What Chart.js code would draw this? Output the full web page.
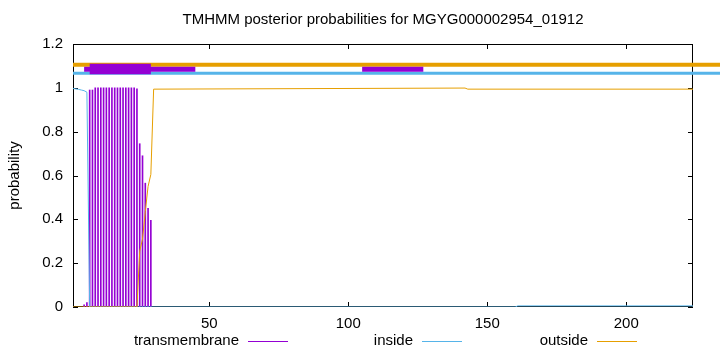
<!DOCTYPE html>
<html>
<head>
<meta charset="utf-8">
<script src="https://cdn.jsdelivr.net/npm/chart.js@4.4.1/dist/chart.umd.min.js"></script>
<style>
  html, body { margin: 0; padding: 0; background: #fff; }
</style>
</head>
<body>
<canvas id="myChart" width="720" height="352"></canvas>
<script>
// residue numbers and posterior probabilities
const tmResidues = [5, 6, 7, 8, 9, 10, 11, 12, 13, 14, 15, 16, 17, 18, 19, 20, 21, 22, 23, 24, 25, 26, 27, 28, 29]
const tmProb = [0.01, 0.02, 0.99, 0.99, 1, 1, 1, 1, 1, 1, 1, 1, 1, 1, 1, 1, 1, 1, 1, 0.995, 0.745, 0.69, 0.565, 0.45, 0.395]

const insideResidues = [1, 2, 3, 4, 5, 6, 7, 160, 161, 224]
const insideProb = [0.997, 0.995, 0.993, 0.99, 0.987, 0.98, 0, 0, 0.005, 0.005]

const outsideResidues = [1, 24, 25, 26, 27, 28, 29, 30, 142, 143, 224]
const outsideProb = [0, 0, 0.255, 0.31, 0.435, 0.55, 0.605, 0.994, 0.999, 0.994, 0.994]

// topology bars drawn above the curves: [start, end] residues
const outsideBar = [1, 234]
const insideBar = [1, 234]
const tmBoxes = [[5, 45], [105, 127]]
const tmSegments = [[7, 29]]
const barLevels = { outside: 1.105, inside: 1.066, tm: 1.085 }

const xTicks = [50, 100, 150, 200]
const seqLength = 224

const PURPLE = '#9400d3'
const BLUE = '#56b4e9'
const ORANGE = '#e69f00'
const FONT = '"Liberation Sans", Arial, sans-serif'

const pts = (xs, ys) => xs.map((x, i) => ({ x: x, y: ys[i] }))
const seg = (range, y) => [{ x: range[0], y: y }, { x: range[1], y: y }]

const lineStyle = (color, width, order) => ({
  type: 'line', borderColor: color, borderWidth: width, pointRadius: 0,
  borderCapStyle: 'butt', tension: 0, fill: false, order: order
})

const datasets = [
  Object.assign(lineStyle(ORANGE, 4, 6), { label: 'outsideBar', data: seg(outsideBar, barLevels.outside), clip: false }),
  Object.assign(lineStyle(BLUE, 3, 5), { label: 'insideBar', data: seg(insideBar, barLevels.inside), clip: false }),
  { type: 'bar', label: 'transmembrane', data: pts(tmResidues, tmProb), backgroundColor: PURPLE,
    barThickness: 1, order: 4 },
  Object.assign(lineStyle(BLUE, 1, 3), { label: 'inside', data: pts(insideResidues, insideProb) }),
  Object.assign(lineStyle(ORANGE, 1, 2), { label: 'outside', data: pts(outsideResidues, outsideProb) })
]
tmBoxes.forEach(b => datasets.push(Object.assign(lineStyle(PURPLE, 5, 1), { label: 'box', data: seg(b, barLevels.tm) })))
tmSegments.forEach(s => datasets.push(Object.assign(lineStyle(PURPLE, 10.5, 0), { label: 'seg', data: seg(s, barLevels.tm + 0.001) })))

const gnuplotFrame = {
  id: 'gnuplotFrame',
  beforeDatasetsDraw(chart) {
    const { ctx, chartArea: a, scales } = chart
    ctx.save()
    ctx.strokeStyle = '#000'
    ctx.lineWidth = 1
    ctx.beginPath()
    ctx.rect(a.left + 0.5, a.top + 0.5, a.right - a.left - 1, a.bottom - a.top - 1)
    xTicks.forEach(v => {
      const x = Math.round(scales.x.getPixelForValue(v)) + 0.5
      ctx.moveTo(x, a.bottom); ctx.lineTo(x, a.bottom - 5)
      ctx.moveTo(x, a.top); ctx.lineTo(x, a.top + 5)
    })
    scales.y.ticks.forEach(t => {
      const y = Math.round(scales.y.getPixelForValue(t.value)) + 0.5
      ctx.moveTo(a.left, y); ctx.lineTo(a.left + 5, y)
      ctx.moveTo(a.right, y); ctx.lineTo(a.right - 5, y)
    })
    ctx.stroke()
    ctx.restore()
  },
  afterDraw(chart) {
    const { ctx, chartArea: a } = chart
    ctx.save()
    ctx.fillStyle = '#000'
    ctx.font = '15px ' + FONT
    ctx.textAlign = 'center'
    ctx.textBaseline = 'middle'
    ctx.fillText('TMHMM posterior probabilities for MGYG000002954_01912', (a.left + a.right) / 2, 20)
    ctx.save()
    ctx.translate(15, (a.top + a.bottom) / 2)
    ctx.rotate(-Math.PI / 2)
    ctx.fillText('probability', 0, 0)
    ctx.restore()
    // legend: text then line sample, gnuplot style
    const entries = [['transmembrane', PURPLE, 248], ['inside', BLUE, 422], ['outside', ORANGE, 597]]
    ctx.textAlign = 'right'
    entries.forEach(([label, color, x]) => {
      ctx.fillStyle = '#000'
      ctx.fillText(label, x - 9, 341)
      ctx.strokeStyle = color
      ctx.lineWidth = 1
      ctx.beginPath()
      ctx.moveTo(x, 341.5); ctx.lineTo(x + 40, 341.5)
      ctx.stroke()
    })
    ctx.restore()
  }
}

new Chart(document.getElementById('myChart').getContext('2d'), {
  type: 'line',
  data: { datasets: datasets },
  options: {
    responsive: false,
    animation: false,
    devicePixelRatio: 1,
    layout: { padding: { top: 44, right: 27, left: 0, bottom: 0 } },
    plugins: { legend: { display: false }, title: { display: false }, tooltip: { enabled: false } },
    scales: {
      x: {
        type: 'linear', min: 1, max: seqLength, offset: false,
        grid: { display: false, drawTicks: false }, border: { display: false },
        afterBuildTicks: s => { s.ticks = xTicks.map(v => ({ value: v })) },
        afterFit: s => { s.height = 45 },
        ticks: { color: '#000', font: { family: FONT, size: 15 }, padding: 8, maxRotation: 0 }
      },
      y: {
        min: 0, max: 1.2,
        grid: { display: false, drawTicks: false }, border: { display: false },
        afterFit: s => { s.width = 73 },
        ticks: { stepSize: 0.2, color: '#000', font: { family: FONT, size: 15 }, padding: 10,
          callback: v => String(Math.round(v * 10) / 10) }
      }
    }
  },
  plugins: [gnuplotFrame]
})
</script>
</body>
</html>
